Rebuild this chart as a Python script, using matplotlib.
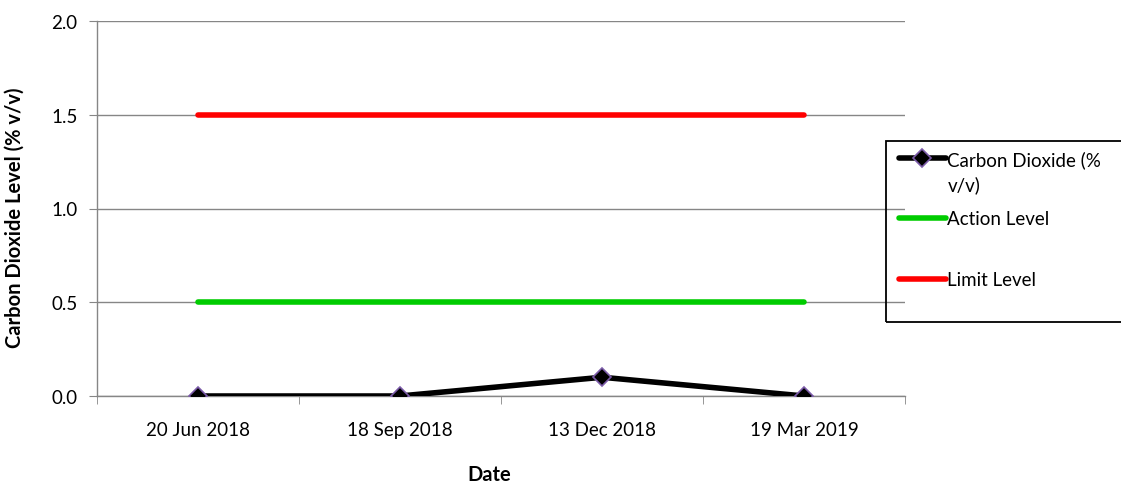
import matplotlib
matplotlib.use("Agg")
import matplotlib.pyplot as plt
from matplotlib.lines import Line2D
from matplotlib.patches import Rectangle

plt.rcParams['font.family'] = ['Lato', 'DejaVu Sans']

dates = ["20 Jun 2018", "18 Sep 2018", "13 Dec 2018", "19 Mar 2019"]
co2 = [0.0, 0.0, 0.1, 0.0]
action_level = [0.5, 0.5, 0.5, 0.5]
limit_level = [1.5, 1.5, 1.5, 1.5]
y_ticks = [0.0, 0.5, 1.0, 1.5, 2.0]

W, H = 1121, 489
fig = plt.figure(figsize=(W / 100, H / 100), dpi=100)
ax = fig.add_axes([97 / W, 1 - 397 / H, (905 - 97) / W, (397 - 22) / H])

FS = 13.5
x = list(range(len(dates)))
h_co2, = ax.plot(x, co2, color='black', lw=4, marker='D', markersize=9,
                 markerfacecolor='black', markeredgecolor='#7b5ba8', markeredgewidth=1.2,
                 zorder=4, solid_capstyle='round')
h_act, = ax.plot(x, action_level, color='#00cc00', lw=4, zorder=3, solid_capstyle='round')
h_lim, = ax.plot(x, limit_level, color='#ff0000', lw=4, zorder=3, solid_capstyle='round')

ax.set_xlim(-0.5, len(dates) - 0.5)
ax.set_ylim(0, 2.0)
ax.set_yticks(y_ticks)
ax.set_yticklabels([f"{v:.1f}" for v in y_ticks], fontsize=FS)
ax.set_xticks(x)
ax.set_xticklabels(dates, fontsize=FS)
ax.tick_params(axis='x', length=0, pad=18)
ax.set_xticks([i - 0.5 for i in range(len(dates) + 1)], minor=True)
ax.tick_params(axis='x', which='minor', length=6, color='#868686', direction='out')
ax.tick_params(axis='y', length=6, color='#868686', direction='out', pad=8)

ax.grid(axis='y', color='#868686', lw=1)
ax.set_axisbelow(True)
for s in ['top', 'right']:
    ax.spines[s].set_visible(False)
for s in ['left', 'bottom']:
    ax.spines[s].set_color('#868686')
    ax.spines[s].set_linewidth(1)

ax.set_ylabel('Carbon Dioxide Level (% v/v)', fontsize=14.5, fontweight='bold')
ax.yaxis.set_label_coords((25 - 97) / 808, (397 - 218) / 375)
ax.set_xlabel('Date', fontsize=14.5, fontweight='bold')
ax.xaxis.set_label_coords((489 - 97) / 808, (397 - 465) / 375)

# legend: rows placed individually, single frame around them
legend_rows = [
    (h_co2, 'Carbon Dioxide (%', 160),
    (Line2D([], [], color='none'), 'v/v)', 185),
    (h_act, 'Action Level', 220),
    (h_lim, 'Limit Level', 281),
]
for handle, label, yc in legend_rows:
    fig.legend([handle], [label], loc='center left',
               bbox_to_anchor=(899 / W, 1 - yc / H), frameon=False,
               fontsize=FS, handlelength=2.5, handletextpad=0.08,
               borderpad=0, borderaxespad=0)
fig.add_artist(Rectangle((886 / W, 1 - 323 / H), (1130 - 886) / W, (323 - 142) / H,
                         transform=fig.transFigure, fill=False,
                         edgecolor='black', linewidth=1.3))

fig.savefig('out.png', dpi=100)
